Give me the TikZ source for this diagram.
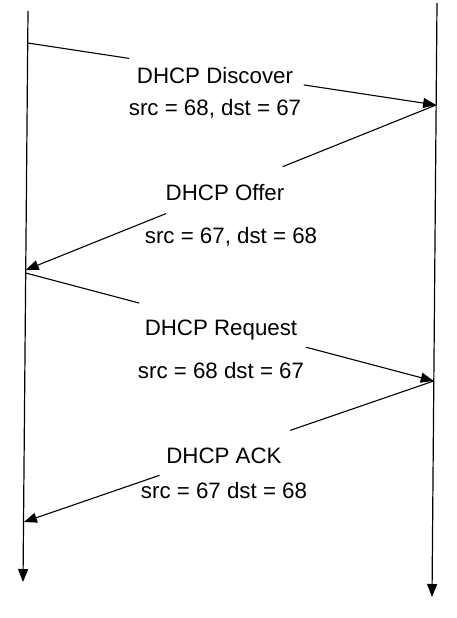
\documentclass[tikz,border=0pt]{standalone}
\usepackage{fontspec}
\setmainfont{Liberation Sans}
\usetikzlibrary{arrows.meta,calc}
\tikzstyle{lifeline}=[
        line width=1.2pt,
        -{Triangle[length=13pt,width=10pt]}
]
\tikzstyle{message}=[
        line width=1.1pt
]
\tikzstyle{msgtip}=[
        -{Triangle[length=13pt,width=10pt]}
]
\tikzstyle{msgtext}=[
        font=\fontsize{22.3}{26}\selectfont,
        text height=16pt,
        text depth=0pt,
        inner sep=0pt
]

\begin{document}
\begin{tikzpicture}[x=1pt,y=-1pt]
                        \useasboundingbox (0,0) rectangle (456,618);

                        \coordinate (clienttop) at (28,11);
                        \coordinate (clientbot) at (23,582);
                        \coordinate (servertop) at (437,3);
                        \coordinate (serverbot) at (432,597);

                        \draw[lifeline] (clienttop) -- (clientbot);
                        \draw[lifeline] (servertop) -- (serverbot);

                        \coordinate (c1) at (27.7,43);
                        \coordinate (s1) at (436.1,105);
                        \coordinate (c2) at (25.7,270);
                        \coordinate (c3) at (25.7,273);
                        \coordinate (s2) at (433.7,381);
                        \coordinate (c4) at (23.9,522);

                        \draw[message] (c1) -- ($(c1)!0.248!(s1)$);
                        \draw[message,msgtip] ($(c1)!0.676!(s1)$) -- (s1);

                        \draw[message] (s1) -- ($(s1)!0.374!(c2)$);
                        \draw[message,msgtip] ($(s1)!0.658!(c2)$) -- (c2);

                        \draw[message] (c3) -- ($(c3)!0.278!(s2)$);
                        \draw[message,msgtip] ($(c3)!0.687!(s2)$) -- (s2);

                        \draw[message] (s2) -- ($(s2)!0.350!(c4)$);
                        \draw[message,msgtip] ($(s2)!0.669!(c4)$) -- (c4);

                        \node[msgtext] (discover) at (215,76) {DHCP Discover};
                        \node[msgtext] (discoverports) at (215,107) {src = 68, dst = 67};
                        \node[msgtext] (offer) at (225,192) {DHCP Offer};
                        \node[msgtext] (offerports) at (231,235) {src = 67, dst = 68};
                        \node[msgtext] (request) at (221,327) {DHCP Request};
                        \node[msgtext] (requestports) at (221,370) {src = 68 dst = 67};
                        \node[msgtext] (ack) at (224,455) {DHCP ACK};
                        \node[msgtext] (ackports) at (224,490) {src = 67 dst = 68};

\end{tikzpicture}
\end{document}
